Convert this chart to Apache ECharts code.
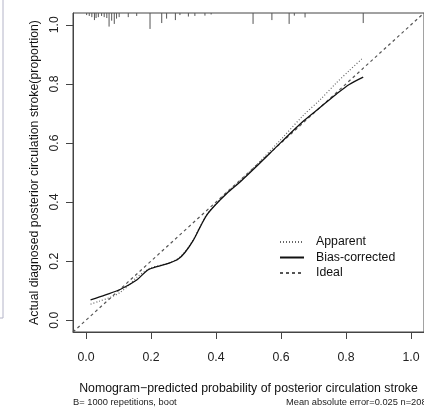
<!DOCTYPE html>
<html>
<head>
<meta charset="utf-8">
<script src="https://cdn.jsdelivr.net/npm/echarts@6/dist/echarts.min.js"></script>
<style>
  html, body { margin: 0; padding: 0; background: #fff; }
  #calChart { width: 424px; height: 409px; }
</style>
</head>
<body>
<div id="calChart"></div>
<script>
// tick labels
var tickVals = [0, 0.2, 0.4, 0.6, 0.8, 1.0];

// apparent calibration curve (dotted)
var appX = [0.014, 0.04, 0.074, 0.105, 0.135, 0.156, 0.182, 0.2, 0.23, 0.26, 0.285, 0.305, 0.33, 0.35, 0.37, 0.397, 0.433, 0.474, 0.525, 0.6, 0.67, 0.72, 0.77, 0.81, 0.853];
var appY = [0.054, 0.064, 0.077, 0.094, 0.122, 0.145, 0.166, 0.178, 0.186, 0.196, 0.21, 0.232, 0.272, 0.315, 0.355, 0.39, 0.432, 0.472, 0.526, 0.612, 0.695, 0.746, 0.803, 0.845, 0.889];

// bias-corrected curve (solid)
var biasX = [0.014, 0.06, 0.105, 0.156, 0.19, 0.218, 0.258, 0.284, 0.305, 0.33, 0.351, 0.371, 0.397, 0.433, 0.474, 0.525, 0.6, 0.67, 0.72, 0.77, 0.81, 0.853];
var biasY = [0.069, 0.086, 0.104, 0.136, 0.17, 0.181, 0.194, 0.207, 0.23, 0.27, 0.315, 0.355, 0.389, 0.429, 0.468, 0.521, 0.602, 0.675, 0.72, 0.765, 0.798, 0.823];

// ideal line
var idealX = [-0.04, 1.04];
var idealY = [-0.04, 1.04];

// rug of predicted probabilities at the top (x, tick length in y units)
var rugX = [0.002, 0.010, 0.018, 0.026, 0.031, 0.038, 0.048, 0.056, 0.064, 0.071, 0.079, 0.087, 0.094, 0.102, 0.130, 0.156, 0.197, 0.233, 0.248, 0.275, 0.289, 0.315, 0.335, 0.366, 0.385, 0.514, 0.572, 0.625, 0.641, 0.674, 0.853];
var rugLen = [0.007, 0.010, 0.014, 0.024, 0.017, 0.014, 0.010, 0.014, 0.017, 0.046, 0.026, 0.037, 0.019, 0.014, 0.014, 0.010, 0.054, 0.034, 0.019, 0.024, 0.007, 0.012, 0.010, 0.009, 0.005, 0.037, 0.024, 0.037, 0.009, 0.015, 0.034];

function zip(a, b) {
  return a.map(function (v, i) { return [v, b[i]]; });
}

var calChart = echarts.init(document.getElementById('calChart'));
var font = '"Liberation Sans", Arial, sans-serif';
var axisColor = '#444';

calChart.setOption({
  animation: false,
  textStyle: { fontFamily: font },
  grid: {
    left: 73, top: 13, right: 0, bottom: 77,
    show: true, borderColor: axisColor, borderWidth: 1
  },
  legend: {
    orient: 'vertical',
    left: 274, top: 231,
    itemWidth: 24, itemHeight: 8, itemGap: 3.5,
    itemStyle: { opacity: 0 },
    textStyle: { fontSize: 12.3, color: '#111', fontFamily: font, padding: [0, 0, 0, 7] },
    data: ['Apparent', 'Bias-corrected', 'Ideal']
  },
  xAxis: {
    type: 'value', min: -0.04, max: 1.04,
    name: 'Nomogram\u2212predicted probability of posterior circulation stroke',
    nameLocation: 'middle', nameGap: 51,
    nameTextStyle: { fontSize: 12.3, color: '#111', fontFamily: font },
    axisLine: { show: true, onZero: false, lineStyle: { color: axisColor } },
    axisTick: { show: true, customValues: tickVals, length: 7, lineStyle: { color: axisColor } },
    axisLabel: {
      customValues: tickVals, margin: 20, fontSize: 12.3, color: '#222',
      formatter: function (v) { return v.toFixed(1); }
    },
    splitLine: { show: false }
  },
  yAxis: {
    type: 'value', min: -0.04, max: 1.04,
    name: 'Actual diagnosed posterior circulation stroke(proportion)',
    nameLocation: 'middle', nameGap: 31,
    nameTextStyle: { fontSize: 12.3, color: '#111', fontFamily: font },
    axisLine: { show: true, onZero: false, lineStyle: { color: axisColor } },
    axisTick: { show: true, customValues: tickVals, length: 7, lineStyle: { color: axisColor } },
    axisLabel: {
      customValues: tickVals, margin: 12, fontSize: 12.3, color: '#222', rotate: 90,
      formatter: function (v) { return v.toFixed(1); }
    },
    splitLine: { show: false }
  },
  graphic: [
    { type: 'text', left: 73, top: 398, style: { text: 'B= 1000 repetitions, boot', font: '9.3px ' + font, fill: '#222' } },
    { type: 'text', left: 286, top: 398, style: { text: 'Mean absolute error=0.025 n=208', font: '9.3px ' + font, fill: '#222' } },
    { type: 'rect', shape: { x: -20, y: -5, width: 23, height: 323 }, style: { fill: 'none', stroke: '#b4b4c8', lineWidth: 1 } }
  ],
  series: [
    {
      name: 'Apparent', type: 'line', symbol: 'none', smooth: 0.3,
      data: zip(appX, appY),
      lineStyle: { color: '#666', width: 1.2, type: [1, 2] },
      itemStyle: { color: '#666' }, z: 3
    },
    {
      name: 'Bias-corrected', type: 'line', symbol: 'none', smooth: 0.3,
      data: zip(biasX, biasY),
      lineStyle: { color: '#111', width: 1.3, type: 'solid' },
      itemStyle: { color: '#111' }, z: 4
    },
    {
      name: 'Ideal', type: 'line', symbol: 'none',
      data: zip(idealX, idealY),
      lineStyle: { color: '#555', width: 1.2, type: [3, 3] },
      itemStyle: { color: '#555' }, z: 2
    },
    {
      type: 'custom', name: 'rug', silent: true,
      data: zip(rugX, rugLen),
      renderItem: function (params, api) {
        var top = api.coord([api.value(0), 1.04]);
        var end = api.coord([api.value(0), 1.04 - api.value(1)]);
        return {
          type: 'line',
          shape: { x1: top[0], y1: top[1], x2: end[0], y2: end[1] },
          style: { stroke: '#555', lineWidth: 1 }
        };
      }
    }
  ]
});
</script>
</body>
</html>
